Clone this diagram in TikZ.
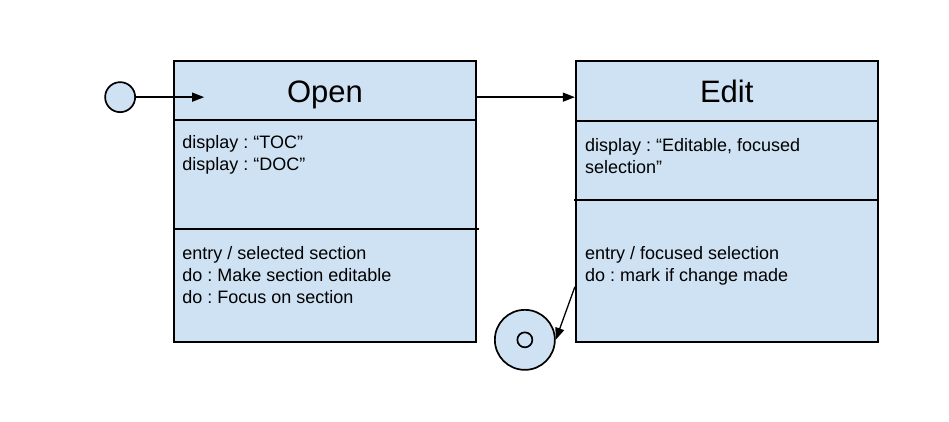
\documentclass[tikz,border=0pt]{standalone}
\usepackage{fontspec}
\setmainfont{Liberation Sans}
\frenchspacing
\usepackage{tikz}
\usetikzlibrary{arrows.meta,shapes,positioning,calc}
\usepackage{xcolor}
\definecolor{stblue}{RGB}{207,226,243}
\tikzstyle{arrow} = [line width=1.3pt,-{Triangle[length=12pt,width=9pt]}]
\tikzstyle{statebox} = [rectangle, minimum width=302pt, minimum height=281pt, draw=black, fill=stblue, line width=1.7pt, inner sep=0pt]
\tikzstyle{divider} = [line width=1.7pt]
\tikzstyle{titletext} = [font=\fontsize{31}{36}\selectfont, inner sep=0pt]
\tikzstyle{infotext} = [font=\fontsize{18}{22}\selectfont, align=left, inner sep=0pt, anchor=north west]
\tikzstyle{pseudostate} = [circle, draw=black, fill=stblue, line width=1.7pt, inner sep=0pt]

\begin{document}
\begin{tikzpicture}[x=1pt, y=-1pt, node distance=98pt]
\useasboundingbox[fill=white] (0,0) rectangle (949,422);

% States
\node[statebox] (open) at (325,201.5) {};
\node[statebox, right=of open] (edit) {};

% Titles
\node[titletext, anchor=base] (opentitle) at ($(open.north)+(0,42)$) {Open};
\node[titletext, anchor=base] (edittitle) at ($(edit.north)+(0,42)$) {Edit};

% Compartments
\draw[divider] ($(open.north west)+(0,60)$) -- ($(open.north east)+(0,60)$);
\draw[divider] ($(open.north west)+(0,169)$) -- ($(open.north east)+(2,169)$);
\draw[divider] ($(edit.north west)+(0,61)$) -- ($(edit.north east)+(0,61)$);
\draw[divider] ($(edit.north west)+(-1,140)$) -- ($(edit.north east)+(0,140)$);

% Texts
\node[infotext] (opendisplay) at ($(open.north west)+(9,75)$) {display : “TOC”\\display : “DOC”};
\node[infotext] (openaction) at ($(open.north west)+(9,186)$) {entry / selected section\\do : Make section editable\\do : Focus on section};
\node[infotext] (editdisplay) at ($(edit.north west)+(10,78)$) {display : “Editable, focused\\selection”};
\node[infotext] (editaction) at ($(edit.north west)+(10,186)$) {entry / focused selection\\do : mark if change made};

% Initial and final
\node[pseudostate, minimum size=30pt] (init) at ($(open.north west)+(-53,37)$) {};
\coordinate (openentry) at ($(open.north west)+(31,37)$);
\node[pseudostate, minimum size=60pt] (final) at ($(edit.south west)+(-50,-3)$) {};
\node[circle, draw=black, line width=1.7pt, minimum size=15pt, inner sep=0pt] (finaldot) at (final) {};
\coordinate (editexit) at ($(edit.south west)+(0,-56)$);

% Transitions
\draw[arrow] (init) -- (openentry);
\draw[arrow] (open.east |- init) -- (edit.west |- init);
\draw[arrow] (editexit) -- (final.east);
\end{tikzpicture}
\end{document}
